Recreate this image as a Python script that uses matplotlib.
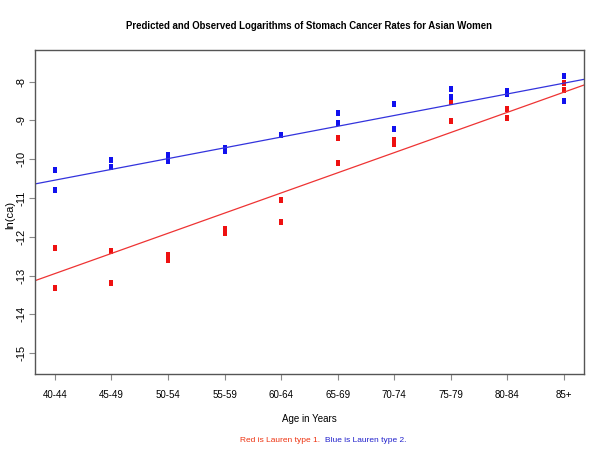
import numpy as np
import matplotlib
matplotlib.use('Agg')
import matplotlib.pyplot as plt

ages = ["40-44","45-49","50-54","55-59","60-64","65-69","70-74","75-79","80-84","85+"]

# observed log rates (x index into ages, value)
red_x = [0, 0, 1, 1, 2, 2, 3, 3, 4, 4, 5, 5, 6, 6, 7, 7, 8, 8, 9, 9]
red_y = [-12.29, -13.31, -12.38, -13.18, -12.47, -12.60, -11.79, -11.90, -11.06, -11.63,
         -9.46, -10.11, -9.50, -9.60, -8.53, -9.01, -8.71, -8.94, -8.04, -8.21]
blue_x = [0, 0, 1, 1, 2, 2, 2, 3, 3, 4, 5, 5, 6, 6, 7, 7, 8, 8, 9, 9]
blue_y = [-10.29, -10.80, -10.02, -10.20, -9.90, -9.97, -10.05, -9.70, -9.78, -9.38,
          -8.80, -9.06, -8.58, -9.21, -8.19, -8.40, -8.25, -8.32, -7.85, -8.51]

# fitted lines: intercept at first age group, slope per group
red_fit = (-12.95, 0.52)
blue_fit = (-10.54, 0.278)

RED = "#ee1111"; BLUE = "#1111ee"
LRED = "#ee3333"; LBLUE = "#3333dd"
FONT = "Liberation Sans"

fig = plt.figure(figsize=(6, 4.5), dpi=100)
ax = fig.add_axes([0.0575, 0.168, 0.9155, 0.722])

rect = [(-0.3, -0.5), (0.3, -0.5), (0.3, 0.5), (-0.3, 0.5), (-0.3, -0.5)]
ax.plot(red_x, red_y, linestyle="none", marker=rect, markersize=4.0, color=RED, mew=0)
ax.plot(blue_x, blue_y, linestyle="none", marker=rect, markersize=4.0, color=BLUE, mew=0)

xlim = (-0.36, 9.35)
xx = np.array(xlim)
ax.plot(xx, red_fit[0] + red_fit[1] * xx, color=LRED, lw=0.9)
ax.plot(xx, blue_fit[0] + blue_fit[1] * xx, color=LBLUE, lw=0.9)

ax.set_xlim(*xlim)
ax.set_ylim(-15.55, -7.17)
ax.set_xticks(range(len(ages)))
ax.set_xticklabels(ages, family=FONT, fontsize=7)
ax.set_yticks([-15, -14, -13, -12, -11, -10, -9, -8])
ax.set_yticklabels(["-15", "-14", "-13", "-12", "-11", "-10", "-9", "-8"],
                   rotation=90, va="center", fontsize=8, family=FONT)
for s in ax.spines.values():
    s.set_color("#555555"); s.set_linewidth(1.0)
ax.tick_params(axis="both", length=4, width=0.8, color="#888888")
ax.tick_params(axis="x", pad=7)
ax.tick_params(axis="y", pad=1.5)

fig.text(10 / 600, 1 - 215 / 450, "ln(ca)", rotation=90, ha="center", va="center",
         fontsize=8, family=FONT)
fig.text(0.515, 1 - 419 / 450, "Age in Years", ha="center", va="center",
         fontsize=7, family=FONT)
fig.text(0.515, 1 - 26 / 450,
         "Predicted and Observed Logarithms of Stomach Cancer Rates for Asian Women",
         ha="center", va="center", fontsize=6.9, fontweight="bold", family=FONT)
fig.text(0.542, 1 - 441 / 450, "Red is Lauren type 1.  ", ha="right", va="center",
         fontsize=6, color="#ee3311", family=FONT)
fig.text(0.542, 1 - 441 / 450, "Blue is Lauren type 2.", ha="left", va="center",
         fontsize=6, color="#2222cc", family=FONT)

fig.savefig("out.png", dpi=100)
